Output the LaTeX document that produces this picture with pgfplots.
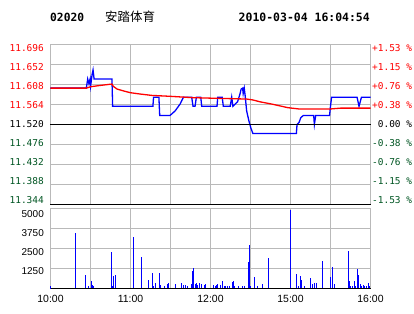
\documentclass[border=0pt]{standalone}
\usepackage{pgfplots}
\pgfplotsset{compat=1.18}
\usepackage{fontspec}
\setmainfont{Liberation Sans}
\newfontfamily\mono{DejaVu Sans Mono}
\newfontfamily\cjk{Noto Sans CJK SC}
\definecolor{gridgray}{RGB}{185,185,185}
\definecolor{pred}{RGB}{255,0,0}
\definecolor{pblue}{RGB}{0,0,255}
\definecolor{pgreen}{RGB}{0,85,34}
\newcommand{\lab}[3]{\raisebox{#1}{\textcolor{#2}{#3}}}
\begin{document}
\begin{tikzpicture}[x=1bp,y=1bp]
\useasboundingbox (0,0) rectangle (414,314);
\node[anchor=west,inner sep=0pt] at (50,297) {\mono\bfseries\fontsize{11.3}{13}\selectfont 02020};
\node[anchor=west,inner sep=0pt] at (105,297) {\cjk\fontsize{12.5}{14}\selectfont 安踏体育};
\node[anchor=east,inner sep=0pt] at (370,297) {\mono\bfseries\fontsize{11.5}{13}\selectfont 2010-03-04 16:04:54};
% price panel
\begin{axis}[at={(50.5bp,109.5bp)},anchor=south west,scale only axis,width=320bp,height=160bp,
  xmin=0,xmax=240,ymin=11.344,ymax=11.696,clip=false,
  xtick={30,60,90,120,150,180,210},xticklabels={},
  ytick={11.344,11.388,11.432,11.476,11.520,11.564,11.608,11.652,11.696},
  yticklabels={\lab{4.0pt}{pgreen}{11.344},\lab{3.0pt}{pgreen}{11.388},\lab{2.1pt}{pgreen}{11.432},\lab{1.1pt}{pgreen}{11.476},\lab{0.1pt}{black}{11.520},\lab{-0.8pt}{pred}{11.564},\lab{-1.8pt}{pred}{11.608},\lab{-2.7pt}{pred}{11.652},\lab{-3.7pt}{pred}{11.696}},
  yticklabel style={font=\mono\fontsize{9.5}{11}\selectfont,inner sep=0pt,anchor=base east,xshift=-6.5bp,yshift=-3.4pt},
  grid=major,
  major grid style={color=gridgray,line width=1bp,solid},
  tick style={color=gridgray},
  major tick length=0pt,
  axis line style={color=gridgray,line width=1bp},
]
\addplot[pblue,line width=1.3bp] coordinates {
(0,11.600) (26.9,11.600) (27.9,11.620) (28.8,11.610) (29.7,11.620) (30.1,11.605)
(31.2,11.630) (31.9,11.640) (32.7,11.620) (46.1,11.620) (46.6,11.560) (76.8,11.560)
(77.3,11.580) (81.3,11.580) (81.9,11.540) (89.7,11.540) (93.5,11.550) (97.2,11.565)
(99.7,11.580) (105.9,11.580) (106.9,11.560) (108.4,11.560) (109.4,11.580) (112.7,11.580)
(113.4,11.560) (124.9,11.560) (125.4,11.580) (128.8,11.580) (129.6,11.560) (134.8,11.560)
(135.9,11.580) (136.8,11.560) (140.3,11.570) (142.1,11.587) (143.0,11.598) (144.1,11.600)
(144.5,11.588) (145.3,11.600) (146.0,11.583) (147.1,11.550) (148.8,11.528) (150.3,11.512)
(151.8,11.500) (184.4,11.500) (184.9,11.520) (186.5,11.525) (187.7,11.535) (189.7,11.540)
(197.4,11.540) (197.9,11.520) (198.9,11.540) (209.3,11.540) (209.8,11.555) (210.8,11.580)
(229.9,11.580) (231.4,11.560) (233.2,11.580) (240,11.580)};
\addplot[pred,line width=1.3bp] coordinates {
(0,11.600) (26.9,11.600) (29.9,11.603) (37.4,11.606) (46.1,11.609) (47.1,11.604)
(49.9,11.598) (54.6,11.594) (59.8,11.590) (67.3,11.587) (76.0,11.584) (89.7,11.582)
(106.9,11.579) (119.6,11.578) (147.1,11.576) (151.8,11.574) (157.0,11.570) (165.8,11.565)
(172.0,11.561) (178.0,11.557) (186.9,11.554) (209.3,11.554) (217.6,11.556) (240,11.556)};
\addplot[black,line width=1.3bp] coordinates {(0,11.520) (240,11.520)};
\addplot[black,line width=1.3bp] coordinates {(0,11.344) (240,11.344)};
\end{axis}
\begin{axis}[at={(50.5bp,109.5bp)},anchor=south west,scale only axis,width=320bp,height=160bp,
  xmin=0,xmax=240,ymin=11.344,ymax=11.696,
  hide x axis,axis y line*=right,axis line style={draw=none},
  ytick={11.344,11.388,11.432,11.476,11.520,11.564,11.608,11.652,11.696},
  yticklabels={\lab{4.0pt}{pgreen}{-1.53 \%},\lab{3.0pt}{pgreen}{-1.15 \%},\lab{2.1pt}{pgreen}{-0.76 \%},\lab{1.1pt}{pgreen}{-0.38 \%},\lab{0.1pt}{black}{\phantom{+}0.00 \%},\lab{-0.8pt}{pred}{+0.38 \%},\lab{-1.8pt}{pred}{+0.76 \%},\lab{-2.7pt}{pred}{+1.15 \%},\lab{-3.7pt}{pred}{+1.53 \%}},
  yticklabel style={font=\mono\fontsize{9.5}{11}\selectfont,inner sep=0pt,anchor=base west,xshift=1.5bp,yshift=-3.4pt},
  major tick length=0pt,
]
\addplot[draw=none] coordinates {(0,11.52)};
\end{axis}
% volume panel
\begin{axis}[at={(50.5bp,25.5bp)},anchor=south west,scale only axis,width=320bp,height=80bp,
  xmin=0,xmax=240,ymin=0,ymax=5000,clip=false,
  xtick={0,60,120,180,240},xticklabels={10:00,11:00,12:00,15:00,16:00},
  minor xtick={30,90,150,210},
  ytick={0,1250,2500,3750,5000},yticklabels={,\lab{-2.0pt}{black}{1250},\lab{-3.7pt}{black}{2500},\lab{-4.3pt}{black}{3750},\lab{-5.3pt}{black}{5000}},
  yticklabel style={font=\fontsize{10}{12}\selectfont,inner sep=0pt,anchor=base east,xshift=-6.5bp,yshift=-3.6pt},
  xticklabel style={font=\fontsize{10.5}{12}\selectfont,yshift=-3pt},
  xmajorgrids=true,ymajorgrids=true,xminorgrids=true,
  major grid style={color=gridgray,line width=1bp,solid},minor grid style={color=gridgray,line width=1bp,solid},
  tick style={color=gridgray},
  major tick length=0pt,minor tick length=0pt,
  axis line style={color=gridgray,line width=1bp},
]
\addplot[ycomb,pblue,line width=1.2bp,mark=none] coordinates {
(0,150) (18.75,3440) (26.25,840) (28.5,150) (30.75,460) (31.5,200) (32.25,150)
(45.75,2300) (46.5,150) (47.25,780) (48.75,840) (62.25,3190) (68.25,1980) (73.5,530)
(76.5,970) (77.25,150) (78.75,340) (81.75,970) (82.5,210) (85.5,150) (87.75,250) (88.5,340)
(93.75,270) (98.25,340) (99.75,210) (101.25,210) (102.75,150) (105.75,270) (106.5,1100) (107.25,1290)
(108.75,270) (109.5,340) (110.25,210) (111.75,340) (113.25,270) (115.5,210) (116.25,270)
(122.25,210) (123.75,150) (124.5,210) (125.25,270) (127.5,210) (129,460) (130.5,150) (131.25,150) (132.75,150)
(134.25,150) (136.5,400) (137.25,460) (138,150) (141,150) (144,150) (145.5,150)
(148.5,1670) (149.25,2740) (150,150) (153,720) (155.25,150) (159,270) (163.5,1920)
(180,4900) (184.5,910) (186,150) (187.5,780) (188.25,530) (190.5,150) (195,650) (196.5,270)
(198,340) (199.5,340) (204,1730) (210,720) (211.5,1350) (213,270)
(223.5,2360) (224.25,460) (225,150) (226.5,150) (228,460) (228.75,150) (230.25,1220) (231,840)
(232.5,270) (233.25,150) (234.75,210) (235.5,150) (237,150) (238.5,340) (239.25,150)};
\addplot[black,line width=1.3bp] coordinates {(0,0) (240,0)};
\end{axis}
\end{tikzpicture}
\end{document}
